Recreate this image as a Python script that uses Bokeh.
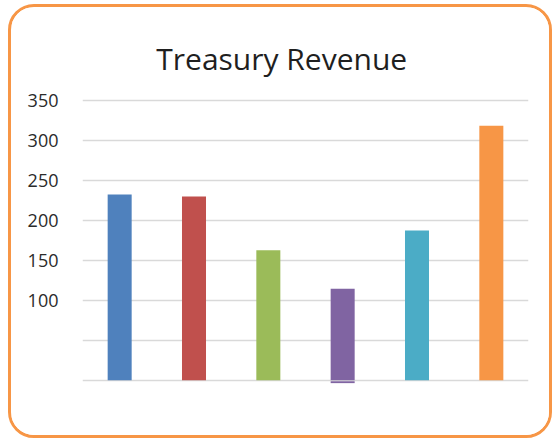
from bokeh.plotting import figure
from bokeh.models import FactorRange, Range1d, FixedTicker, ColumnDataSource, Label
from bokeh.embed import file_html
from bokeh.resources import INLINE

# ---- data ----
categories = ["A", "B", "C", "D", "E", "F"]
revenue = [232.5, 230.0, 162.5, 114.5, 187.5, 318.5]
bar_colors = ["#4F81BD", "#C0504D", "#9BBB59", "#8064A2", "#4BACC6", "#F79646"]
y_tick_values = [100, 150, 200, 250, 300, 350]
grid_values = [0, 50, 100, 150, 200, 250, 300, 350]
title_text = "Treasury Revenue"
# small sliver drawn just below the baseline under the purple bar
sliver_cat = ["D"]
sliver_top = [-1.2]
sliver_bottom = [-3.6]

src = ColumnDataSource(dict(cat=categories, val=revenue, color=bar_colors))

# the (invisible) frame extends above 350 so the title can sit inside it
p = figure(
    width=544, height=434,
    x_range=FactorRange(*categories, range_padding=0),
    y_range=Range1d(-4, 450),
    output_backend="svg", toolbar_location=None,
    min_border_left=71, min_border_right=27,
    min_border_top=13, min_border_bottom=58,
)
p.styles = {"border": "3px solid #F79646", "border-radius": "26px",
            "margin-left": "8px", "margin-top": "4px", "overflow": "hidden"}
p.outline_line_color = None
p.background_fill_color = "white"
p.border_fill_color = "white"

p.vbar(x="cat", top="val", bottom=0, width=0.323, color="color",
       line_color=None, source=src)
p.vbar(x=sliver_cat, top=sliver_top, bottom=sliver_bottom, width=0.323,
       color="#8064A2", line_color=None)

title = Label(x=2.68, y=403, text=title_text, text_align="center",
              text_baseline="alphabetic", text_font="Open Sans",
              text_font_size="30px", text_color="#1f1f1f")
p.add_layout(title)

# x axis hidden
p.xaxis.visible = False
p.xgrid.visible = False

# y axis
ax = p.yaxis[0]
ax.ticker = FixedTicker(ticks=y_tick_values)
ax.axis_line_color = None
ax.major_tick_line_color = None
ax.minor_tick_line_color = None
ax.major_label_standoff = 18
ax.major_label_text_font = "Open Sans"
ax.major_label_text_font_size = "18px"
ax.major_label_text_color = "#2b2b2b"

p.ygrid.ticker = FixedTicker(ticks=grid_values)
p.ygrid.grid_line_color = "#D9D9D9"
p.ygrid.grid_line_width = 1.5

open("out.html", "w").write(file_html(p, INLINE))
